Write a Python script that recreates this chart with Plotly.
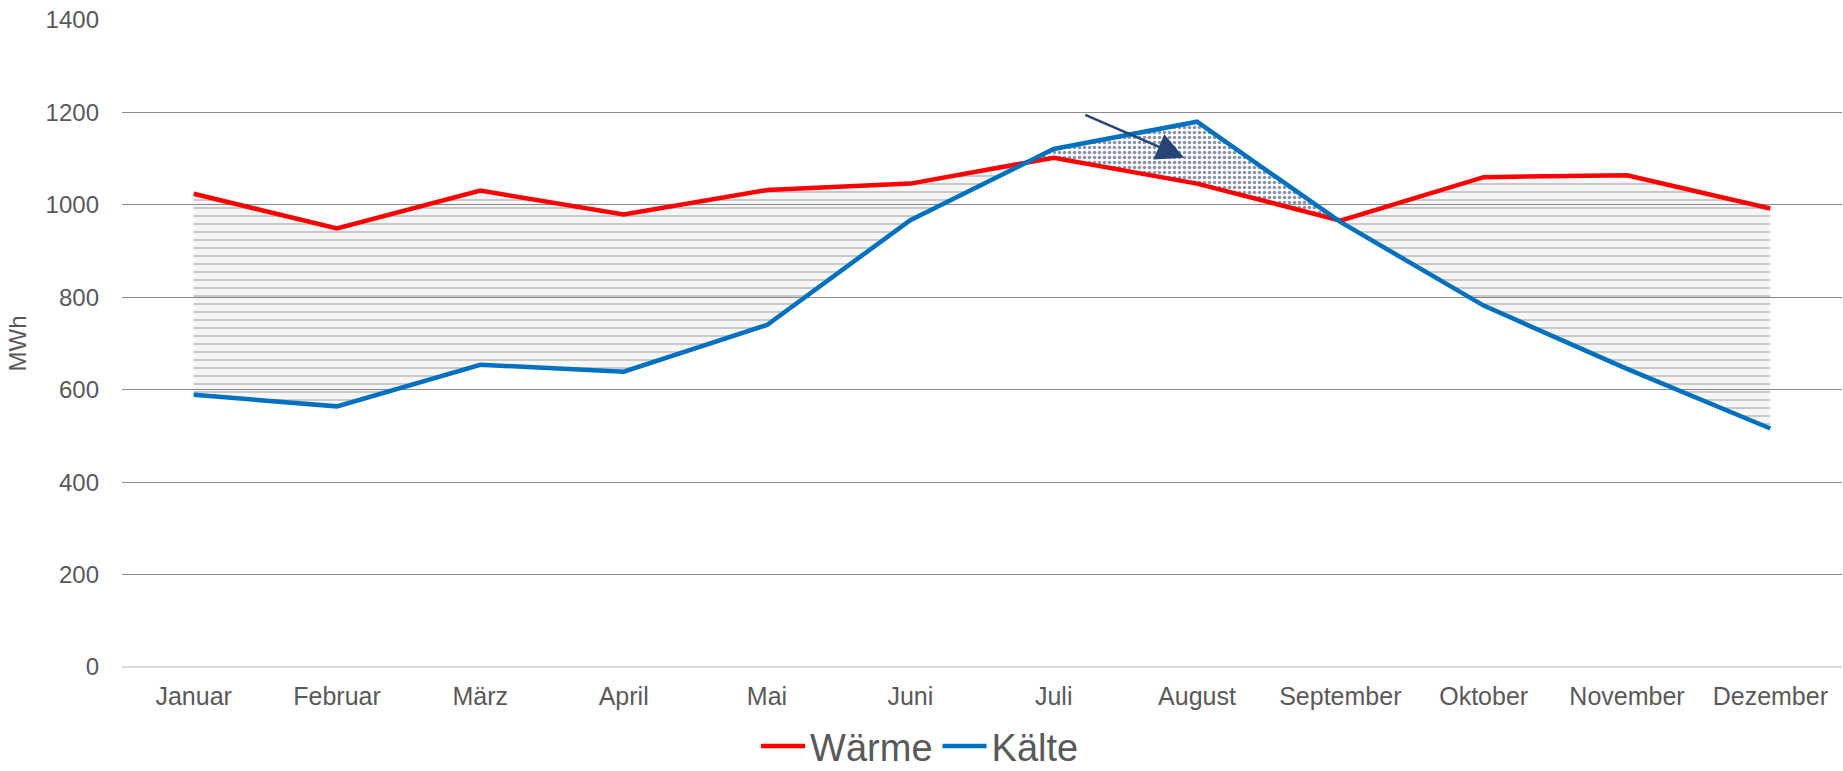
import plotly.graph_objects as go

months = ["Januar", "Februar", "März", "April", "Mai", "Juni", "Juli",
          "August", "September", "Oktober", "November", "Dezember"]
waerme = [1024, 949, 1031, 979, 1032, 1046, 1102, 1046, 966, 1060, 1064, 992]
kaelte = [589, 564, 654, 639, 740, 967, 1121, 1180, 963, 782, 645, 516]
y_ticks = [0, 200, 400, 600, 800, 1000, 1200, 1400]

# arrow annotation (category index, value)
arrow_tail = (6.21, 1196)
arrow_head = (6.91, 1102)

RED = "#FF0000"
BLUE = "#0070C0"
TXT = "#595959"

xs = list(range(len(months)))

# build points including crossing points between the two curves
pts = []
for i in range(len(xs)):
    pts.append((xs[i], waerme[i], kaelte[i]))
    if i < len(xs) - 1:
        d0 = waerme[i] - kaelte[i]
        d1 = waerme[i + 1] - kaelte[i + 1]
        if d0 * d1 < 0:
            t = d0 / (d0 - d1)
            xc = xs[i] + t
            yc = waerme[i] + t * (waerme[i + 1] - waerme[i])
            pts.append((xc, yc, yc))

# split into runs of same sign
runs = []
cur = [pts[0]]
cur_sign = None
for p in pts[1:]:
    cur.append(p)
    d = p[1] - p[2]
    if abs(d) < 1e-9:
        runs.append((cur_sign, cur))
        cur = [p]
        cur_sign = None
    else:
        s = 1 if d > 0 else -1
        if cur_sign is None:
            cur_sign = s
if len(cur) > 1:
    runs.append((cur_sign, cur))

fig = go.Figure()

for sign, run in runs:
    if sign is None:
        d = run[0][1] - run[0][2]
        sign = 1 if d >= 0 else -1
    px = [p[0] for p in run] + [p[0] for p in reversed(run)]
    py = [p[1] for p in run] + [p[2] for p in reversed(run)]
    if sign > 0:
        pattern = dict(shape="-", fgcolor="#9c9c9c", bgcolor="rgba(0,0,0,0.035)",
                       size=8, solidity=0.25)
    else:
        pattern = dict(shape=".", fgcolor="#14285a", bgcolor="rgba(255,255,255,0)",
                       size=5, solidity=0.4)
    fig.add_trace(go.Scatter(x=px, y=py, mode="none", fill="toself",
                             fillcolor="rgba(0,0,0,0)", fillpattern=pattern,
                             showlegend=False, hoverinfo="skip"))

fig.add_trace(go.Scatter(x=xs, y=waerme, mode="lines", name="Wärme",
                         line=dict(color=RED, width=4.5)))
fig.add_trace(go.Scatter(x=xs, y=kaelte, mode="lines", name="Kälte",
                         line=dict(color=BLUE, width=4.5)))

fig.add_annotation(x=arrow_head[0], y=arrow_head[1], ax=arrow_tail[0], ay=arrow_tail[1],
                   xref="x", yref="y", axref="x", ayref="y", text="",
                   showarrow=True, arrowhead=2, arrowsize=2.2, arrowwidth=2.5,
                   arrowcolor="#264478")

fig.update_layout(
    width=1843, height=771,
    margin=dict(l=122, r=1, t=20, b=104, autoexpand=False),
    paper_bgcolor="white", plot_bgcolor="white",
    font=dict(family="Liberation Sans, Arial, sans-serif", color=TXT),
    legend=dict(orientation="h", x=0.464, xanchor="center",
                yref="container", y=0.032, yanchor="middle",
                font=dict(size=38, color=TXT), itemwidth=44, tracegroupgap=0),
    showlegend=True,
)
fig.update_xaxes(range=[-0.5, 11.5], tickvals=xs, ticktext=months,
                 tickfont=dict(size=25, color=TXT), showgrid=False, zeroline=False,
                 showline=False, ticks="", ticklabelstandoff=12, automargin=False)
fig.update_yaxes(range=[0, 1400], tickvals=y_ticks, tickfont=dict(size=24, color=TXT),
                 showgrid=True, gridcolor="#8c8c8c", gridwidth=1.3, zeroline=True,
                 zerolinecolor="#d9d9d9", zerolinewidth=1.5, ticks="",
                 ticklabelstandoff=22, automargin=False,
                 title=dict(text="MWh", font=dict(size=24, color=TXT), standoff=12))

fig.write_html("out.html", config={"displayModeBar": False},
               post_script="document.body.style.margin='0';document.body.style.overflow='hidden';")
